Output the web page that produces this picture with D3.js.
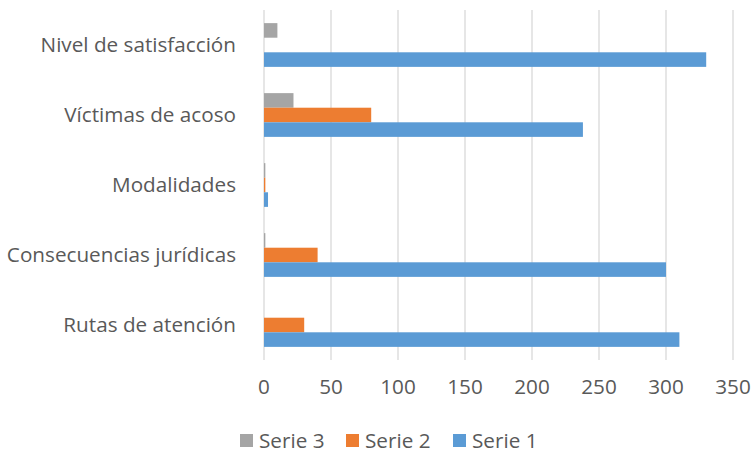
<!DOCTYPE html>
<html>
<head>
<meta charset="utf-8">
<script src="https://cdn.jsdelivr.net/npm/d3@7"></script>
<style>
  body { margin: 0; background: #fff; }
  text { font-family: "Open Sans", sans-serif; fill: #595959; }
</style>
</head>
<body>
<div id="chart"></div>
<script>
// categories, top to bottom as drawn
const categories = ["Nivel de satisfacción", "Víctimas de acoso", "Modalidades", "Consecuencias jurídicas", "Rutas de atención"];
const serie1 = [330, 238, 3, 300, 310];
const serie2 = [0, 80, 1, 40, 30];
const serie3 = [10, 22, 1, 1, 0];
const seriesNames = ["Serie 3", "Serie 2", "Serie 1"];
const xTicks = [0, 50, 100, 150, 200, 250, 300, 350];

const colors = { "Serie 1": "#5B9BD5", "Serie 2": "#ED7D31", "Serie 3": "#A5A5A5" };
const values = { "Serie 1": serie1, "Serie 2": serie2, "Serie 3": serie3 };

const width = 752, height = 455;
const margin = { top: 10, right: 19, bottom: 95, left: 264 };
const innerW = width - margin.left - margin.right;
const innerH = height - margin.top - margin.bottom;
const fontSize = "20.7px";

const svg = d3.select("#chart")
    .append("svg")
    .attr("width", width)
    .attr("height", height);

const g = svg.append("g")
    .attr("transform", `translate(${margin.left},${margin.top})`);

const x = d3.scaleLinear().domain([0, 350]).range([0, innerW]);
const y = d3.scaleBand().domain(categories).range([0, innerH])
    .paddingInner(0.375).paddingOuter(0.1875);
const ySub = d3.scaleBand().domain(seriesNames).range([0, y.bandwidth()]);

// gridlines
g.selectAll(".grid")
    .data(xTicks)
    .join("line")
    .attr("x1", d => x(d)).attr("x2", d => x(d))
    .attr("y1", 0).attr("y2", innerH)
    .attr("stroke", "#d9d9d9")
    .attr("stroke-width", 1.3);

// bars
const groups = g.selectAll(".cat")
    .data(categories)
    .join("g")
    .attr("transform", d => `translate(0,${y(d)})`);

groups.selectAll("rect")
    .data((c, i) => seriesNames.map(s => ({ s, v: values[s][i] })))
    .join("rect")
    .attr("x", x(0))
    .attr("y", d => ySub(d.s))
    .attr("width", d => x(d.v) - x(0))
    .attr("height", ySub.bandwidth())
    .attr("fill", d => colors[d.s]);

// category labels
g.selectAll(".ylab")
    .data(categories)
    .join("text")
    .attr("x", -28)
    .attr("y", d => y(d) + y.bandwidth() / 2)
    .attr("dy", "0.35em")
    .attr("text-anchor", "end")
    .style("font-size", fontSize)
    .text(d => d);

// x tick labels
g.selectAll(".xlab")
    .data(xTicks)
    .join("text")
    .attr("x", d => x(d))
    .attr("y", innerH + 27)
    .attr("dy", "0.35em")
    .attr("text-anchor", "middle")
    .style("font-size", fontSize)
    .text(d => d);

// legend
const legendX = [240, 346, 453];
const legend = svg.selectAll(".leg")
    .data(seriesNames)
    .join("g")
    .attr("transform", (d, i) => `translate(${legendX[i]},441)`);
legend.append("rect")
    .attr("x", 0).attr("y", -7)
    .attr("width", 13).attr("height", 13)
    .attr("fill", d => colors[d]);
legend.append("text")
    .attr("x", 19).attr("y", 0)
    .attr("dy", "0.35em")
    .style("font-size", fontSize)
    .text(d => d);
</script>
</body>
</html>
